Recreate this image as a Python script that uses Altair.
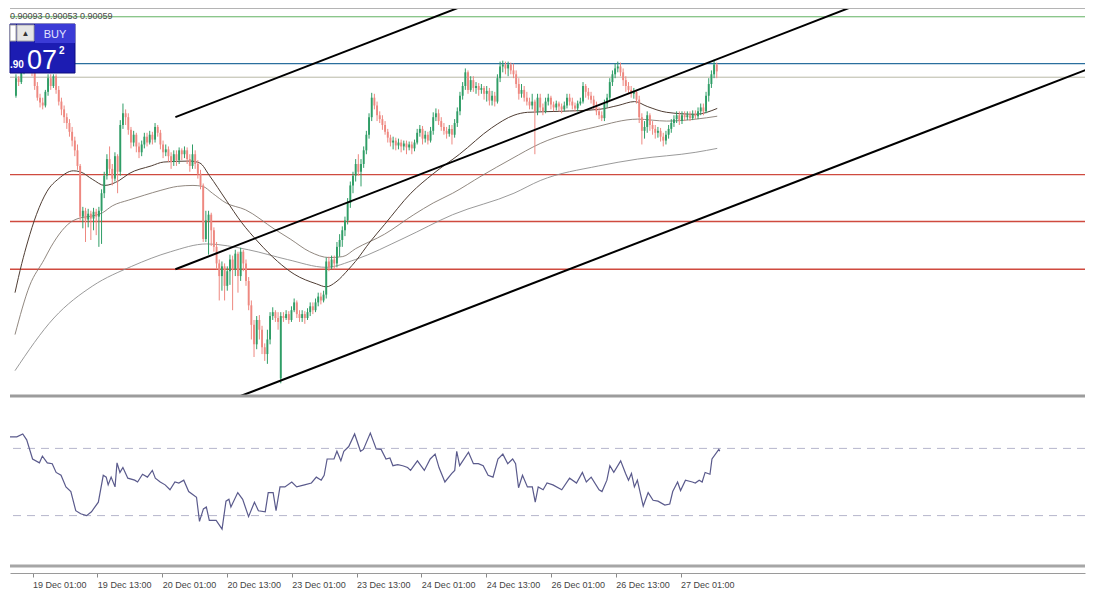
import altair as alt
import pandas as pd

W, H_PRICE, H_OSC = 1075, 388, 168
BAR_DOMAIN = [-8.36, 389.8]          # half-hour bars counted from 19 Dec 01:00
PRICE_DOMAIN = [0.89802, 0.90200]
FONT = "Liberation Sans"

# ---------------- candles (prices in points, 1e-5) ----------------
first_bar = -8
open_pts = [
    90110, 90128, 90124, 90134, 90140, 90142, 90138, 90134, 90120, 90108, 90103, 90100, 90114, 90128, 90120, 90130,
    90116, 90104, 90096, 90088, 90082, 90073, 90064, 90054, 90038, 89986, 89992, 89983, 89989, 89984, 89991, 89986,
    89992, 90010, 90028, 90045, 90035, 90025, 90048, 90032, 90080, 90092, 90088, 90075, 90062, 90070, 90058, 90052,
    90060, 90068, 90062, 90070, 90065, 90078, 90072, 90060, 90052, 90055, 90048, 90042, 90050, 90044, 90054, 90050,
    90054, 90045, 90038, 90050, 90040, 90030, 90018, 89963, 89982, 89988, 89972, 89955, 89938, 89925, 89935, 89915,
    89930, 89942, 89932, 89948, 89925, 89950, 89938, 89920, 89895, 89875, 89855, 89880, 89870, 89852, 89845, 89860,
    89884, 89888, 89882, 89820, 89884, 89882, 89886, 89880, 89890, 89898, 89886, 89882, 89886, 89882, 89888, 89894,
    89890, 89898, 89904, 89900, 89906, 89940, 89934, 89942, 89938, 89955, 89962, 89972, 89982, 90000, 90018, 90028,
    90040, 90032, 90040, 90054, 90070, 90088, 90108, 90100, 90090, 90086, 90080, 90073, 90067, 90062, 90064, 90059,
    90062, 90058, 90061, 90057, 90060, 90056, 90062, 90072, 90076, 90066, 90070, 90064, 90074, 90088, 90092, 90084,
    90078, 90074, 90071, 90076, 90070, 90082, 90094, 90110, 90120, 90134, 90116, 90126, 90118, 90120, 90116, 90118,
    90112, 90115, 90105, 90110, 90104, 90128, 90140, 90142, 90138, 90142, 90136, 90132, 90122, 90112, 90116, 90108,
    90104, 90100, 90104, 90094, 90108, 90098, 90094, 90104, 90108, 90101, 90098, 90102, 90099, 90096, 90100, 90108,
    90104, 90100, 90097, 90102, 90104, 90120, 90114, 90110, 90106, 90100, 90094, 90090, 90087, 90102, 90108, 90124,
    90132, 90138, 90140, 90134, 90126, 90120, 90116, 90112, 90114, 90106, 90088, 90074, 90078, 90090, 90080, 90076,
    90072, 90074, 90068, 90064, 90070, 90076, 90082, 90086, 90090, 90084, 90090, 90088, 90090, 90087, 90091, 90089,
    90094, 90098, 90094, 90110, 90122, 90132, 90142,
]
close_pts = [
    90128, 90124, 90134, 90140, 90142, 90138, 90134, 90120, 90108, 90103, 90100, 90114, 90128, 90120, 90130, 90116,
    90104, 90096, 90088, 90082, 90073, 90064, 90054, 90038, 89986, 89992, 89983, 89989, 89984, 89991, 89986, 89992,
    90010, 90028, 90045, 90035, 90025, 90048, 90032, 90080, 90092, 90088, 90075, 90062, 90070, 90058, 90052, 90060,
    90068, 90062, 90070, 90065, 90078, 90072, 90060, 90052, 90055, 90048, 90042, 90050, 90044, 90054, 90050, 90054,
    90045, 90038, 90050, 90040, 90030, 90018, 89963, 89982, 89988, 89972, 89955, 89938, 89925, 89935, 89915, 89930,
    89942, 89932, 89948, 89925, 89950, 89938, 89920, 89895, 89875, 89855, 89880, 89870, 89852, 89845, 89860, 89884,
    89888, 89882, 89878, 89884, 89882, 89886, 89880, 89890, 89898, 89886, 89882, 89886, 89882, 89888, 89894, 89890,
    89898, 89904, 89900, 89906, 89940, 89934, 89942, 89938, 89955, 89962, 89972, 89982, 90000, 90018, 90028, 90040,
    90032, 90040, 90054, 90070, 90088, 90108, 90100, 90090, 90086, 90080, 90073, 90067, 90062, 90064, 90059, 90062,
    90058, 90061, 90057, 90060, 90056, 90062, 90072, 90076, 90066, 90070, 90064, 90074, 90088, 90092, 90084, 90078,
    90074, 90071, 90076, 90070, 90082, 90094, 90110, 90120, 90134, 90116, 90126, 90118, 90120, 90116, 90118, 90112,
    90115, 90105, 90110, 90104, 90128, 90140, 90142, 90138, 90142, 90136, 90132, 90122, 90112, 90116, 90108, 90104,
    90100, 90104, 90094, 90108, 90098, 90094, 90104, 90108, 90101, 90098, 90102, 90099, 90096, 90100, 90108, 90104,
    90100, 90097, 90102, 90104, 90120, 90114, 90110, 90106, 90100, 90094, 90090, 90087, 90102, 90108, 90124, 90132,
    90138, 90140, 90134, 90126, 90120, 90116, 90112, 90114, 90106, 90088, 90074, 90078, 90090, 90080, 90076, 90072,
    90074, 90068, 90064, 90070, 90076, 90082, 90086, 90090, 90084, 90090, 90088, 90090, 90087, 90091, 90089, 90094,
    90098, 90094, 90110, 90122, 90132, 90142, 90135,
]
high_pts = [
    90132, 90130, 90140, 90145, 90148, 90145, 90142, 90136, 90124, 90112, 90108, 90116, 90132, 90132, 90132, 90132,
    90120, 90108, 90100, 90092, 90086, 90078, 90068, 90060, 90040, 89996, 89995, 89994, 89992, 89995, 89994, 89996,
    90014, 90032, 90050, 90058, 90040, 90052, 90050, 90085, 90102, 90096, 90092, 90078, 90074, 90072, 90062, 90064,
    90072, 90072, 90074, 90073, 90082, 90080, 90075, 90064, 90060, 90058, 90052, 90054, 90054, 90057, 90056, 90058,
    90057, 90050, 90060, 90054, 90044, 90034, 90020, 89992, 89992, 89990, 89975, 89960, 89942, 89940, 89938, 89935,
    89947, 89946, 89952, 89950, 89954, 89952, 89942, 89924, 89900, 89880, 89884, 89885, 89874, 89856, 89870, 89888,
    89893, 89890, 89888, 89888, 89888, 89890, 89889, 89894, 89902, 89900, 89890, 89890, 89889, 89892, 89898, 89898,
    89902, 89908, 89908, 89910, 89944, 89945, 89946, 89946, 89960, 89968, 89976, 89986, 90005, 90022, 90032, 90045,
    90050, 90045, 90058, 90074, 90092, 90113, 90112, 90104, 90094, 90090, 90084, 90076, 90070, 90068, 90067, 90066,
    90065, 90064, 90064, 90063, 90063, 90065, 90076, 90080, 90079, 90074, 90073, 90078, 90093, 90097, 90096, 90088,
    90082, 90078, 90080, 90080, 90086, 90098, 90114, 90124, 90138, 90136, 90130, 90130, 90124, 90123, 90122, 90120,
    90120, 90118, 90115, 90114, 90132, 90145, 90146, 90145, 90145, 90144, 90143, 90136, 90128, 90122, 90120, 90114,
    90108, 90112, 90106, 90112, 90112, 90102, 90108, 90112, 90110, 90104, 90105, 90104, 90102, 90104, 90112, 90112,
    90108, 90103, 90105, 90108, 90124, 90122, 90118, 90114, 90110, 90104, 90098, 90094, 90106, 90112, 90128, 90136,
    90143, 90145, 90144, 90138, 90130, 90124, 90120, 90118, 90116, 90110, 90092, 90084, 90094, 90092, 90084, 90080,
    90078, 90077, 90072, 90074, 90080, 90086, 90090, 90094, 90094, 90094, 90094, 90094, 90094, 90095, 90095, 90098,
    90102, 90102, 90114, 90128, 90136, 90147, 90144,
]
low_pts = [
    90108, 90120, 90122, 90132, 90136, 90134, 90130, 90116, 90105, 90098, 90096, 90098, 90110, 90116, 90118, 90112,
    90100, 90090, 90082, 90076, 90068, 90058, 90048, 90034, 89982, 89974, 89960, 89975, 89962, 89972, 89967, 89955,
    89958, 90005, 90024, 90030, 90018, 90022, 90010, 90028, 90076, 90080, 90070, 90056, 90058, 90052, 90046, 90048,
    90056, 90058, 90060, 90060, 90062, 90068, 90055, 90046, 90048, 90042, 90035, 90038, 90038, 90040, 90044, 90046,
    90040, 90032, 90035, 90035, 90025, 90014, 89960, 89960, 89947, 89956, 89950, 89932, 89900, 89910, 89900, 89910,
    89916, 89890, 89925, 89908, 89920, 89930, 89915, 89890, 89860, 89842, 89850, 89860, 89845, 89838, 89835, 89855,
    89880, 89878, 89870, 89815, 89878, 89880, 89876, 89878, 89888, 89882, 89878, 89878, 89876, 89880, 89884, 89886,
    89888, 89894, 89896, 89898, 89902, 89930, 89932, 89932, 89934, 89945, 89955, 89966, 89978, 89995, 90010, 90022,
    90028, 90017, 90036, 90050, 90066, 90084, 90096, 90084, 90082, 90075, 90070, 90062, 90058, 90055, 90054, 90055,
    90052, 90054, 90050, 90054, 90050, 90053, 90060, 90068, 90060, 90062, 90060, 90062, 90070, 90084, 90080, 90074,
    90070, 90066, 90068, 90060, 90067, 90078, 90090, 90106, 90116, 90112, 90114, 90114, 90112, 90110, 90112, 90106,
    90104, 90100, 90100, 90099, 90102, 90124, 90134, 90132, 90130, 90132, 90128, 90118, 90106, 90108, 90104, 90100,
    90096, 90096, 90050, 90090, 90094, 90090, 90092, 90100, 90096, 90094, 90095, 90094, 90092, 90094, 90097, 90100,
    90096, 90094, 90094, 90100, 90102, 90108, 90106, 90102, 90096, 90090, 90086, 90084, 90084, 90098, 90105, 90120,
    90128, 90134, 90130, 90120, 90114, 90112, 90108, 90107, 90102, 90082, 90060, 90066, 90072, 90074, 90070, 90066,
    90067, 90063, 90058, 90060, 90066, 90072, 90078, 90082, 90080, 90081, 90084, 90085, 90084, 90085, 90086, 90086,
    90090, 90090, 90092, 90104, 90118, 90128, 90128,
]

# ---------------- moving averages (bar, price in points) ----------------
ma_fast_bar = [-8.36, -5.82, -3.64, -0.36, 3.64, 8.0, 13.45, 16.0, 20.73, 25.09, 30.55, 34.18, 42.55, 47.27, 57.09,
               60.73, 64.36, 70.55, 76.36, 82.55, 89.82, 96.0, 104.36, 108.0, 111.64, 116.36, 118.91, 124.36, 129.82,
               139.64, 148.0, 157.82, 169.82, 178.18, 183.27, 195.27, 209.82, 217.09, 223.27, 228.0, 235.27, 246.18,
               254.18]
ma_fast_pts = [89908, 89938, 89960, 89988, 90012, 90025, 90033, 90032, 90024, 90018, 90023, 90030, 90038, 90042, 90043,
               90041, 90028, 90003, 89980, 89960, 89940, 89927, 89917, 89914, 89919, 89932, 89940, 89960, 89978,
               90010, 90030, 90050, 90077, 90090, 90093, 90094, 90096, 90100, 90104, 90099, 90093, 90091,
               90097]
ma_mid_bar = [-8.36, -2.91, 2.55, 5.09, 13.45, 24.36, 28.0, 34.18, 40.0, 46.18, 52.36, 58.18, 61.82, 65.45, 70.55,
              77.82, 88.73, 94.55, 101.82, 109.09, 114.18, 118.91, 129.82, 140.73, 148.0, 155.27, 166.18, 177.09,
              188.0, 208.73, 224.36, 235.27, 246.18, 254.18]
ma_mid_pts = [89865, 89915, 89942, 89955, 89982, 89990, 89997, 90003, 90008, 90013, 90017, 90018, 90017, 90010, 90000,
              89993, 89973, 89963, 89950, 89944, 89945, 89953, 89968, 89988, 90000, 90010, 90028, 90045,
              90061, 90078, 90086, 90084, 90086, 90089]
ma_slow_bar = [-8.36, 6.18, 20.73, 35.27, 49.82, 63.27, 78.91, 93.45, 108.0, 118.91, 137.09, 155.27, 178.18, 188.0,
               209.82, 224.36, 246.18, 254.18]
ma_slow_pts = [89828, 89882, 89915, 89935, 89950, 89958, 89952, 89942, 89934, 89942, 89964, 89988, 90010, 90023,
               90038, 90045, 90052, 90056]

# ---------------- horizontal levels ----------------
level_prices = [0.90191, 0.90143, 0.90129, 0.90029, 0.89981, 0.89932]
level_colors = ["#62b262", "#2b6f9e", "#b9b9a6", "#cf4a3f", "#cf4a3f", "#cf4a3f"]
level_widths = [1.0, 1.3, 1.0, 1.3, 1.3, 1.3]

# ---------------- channel trend lines ----------------
channel_ids = ["upper", "upper", "middle", "middle", "lower", "lower"]
channel_bar = [51.6, 160.0, 51.6, 310.0, 76.0, 400.0]
channel_price = [0.90088, 0.90203, 0.89932, 0.90207, 0.89802, 0.90145]

# ---------------- oscillator ----------------
rsi_bar = [-8.36, -5.82, -3.64, -2.18, 0.0, 2.54, 3.64, 5.46, 7.28, 8.72, 10.54, 12.36, 14.18, 16.0, 17.82, 20.0,
           21.82, 24.36, 26.18, 27.28, 28.0, 29.1, 30.54, 31.28, 32.36, 33.46, 35.28, 37.82, 38.9, 40.72, 42.54,
           44.36, 45.46, 47.28, 49.1, 50.9, 52.72, 54.18, 56.0, 57.82, 60.72, 61.82, 63.28, 64.36, 65.46, 68.0,
           70.18, 71.64, 72.72, 73.46, 76.0, 77.82, 80.0, 82.18, 83.64, 86.18, 87.28, 89.1, 90.18, 91.64, 93.46,
           96.0, 97.82, 100.72, 103.28, 105.1, 106.9, 108.0, 109.1, 111.64, 112.72, 114.18, 115.28, 117.1, 119.28,
           121.46, 122.54, 125.1, 127.28, 129.1, 130.9, 132.36, 133.46, 135.28, 137.1, 138.9, 140.0, 142.54, 145.1,
           147.28, 149.1, 150.54, 152.72, 155.28, 156.36, 157.1, 158.18, 161.46, 163.28, 165.1, 166.9, 168.72,
           170.54, 172.36, 174.18, 176.0, 177.82, 178.9, 180.0, 181.46, 183.28, 185.1, 186.18, 187.28, 189.1,
           190.54, 192.72, 196.0, 198.9, 201.46, 203.64, 205.1, 206.9, 209.82, 210.9, 212.72, 213.82, 215.28,
           217.82, 219.64, 220.72, 221.82, 222.9, 224.0, 226.18, 228.0, 229.82, 231.64, 234.18, 236.0, 237.1,
           238.9, 240.0, 241.82, 244.36, 245.46, 246.9, 248.0, 249.1, 250.9, 251.64, 254.18, 254.54]
rsi_val = [76.9, 76.9, 78.6, 75.1, 63.7, 61.4, 65.4, 61.4, 60.9, 55.7, 54.0, 47.1, 44.3, 32.9, 31.1, 30.0,
           32.3, 38.0, 54.0, 52.9, 48.3, 52.9, 47.1, 61.4, 55.7, 58.6, 52.3, 51.1, 50.0, 54.6, 52.9,
           56.9, 52.3, 50.0, 48.3, 45.4, 50.0, 49.4, 51.1, 44.3, 40.9, 26.6, 34.0, 35.1, 27.1, 27.1,
           22.0, 38.6, 39.7, 35.1, 43.7, 39.7, 29.4, 38.0, 32.9, 32.3, 43.7, 43.7, 32.9, 47.1, 47.1,
           50.0, 47.1, 48.3, 49.4, 52.9, 51.1, 54.0, 63.7, 63.7, 68.3, 62.6, 68.3, 71.1, 78.6,
           68.3, 69.4, 79.1, 69.7, 69.4, 63.7, 64.3, 59.7, 60.3, 59.7, 58.6, 56.9, 62.6, 56.9,
           63.7, 66.6, 58.6, 50.0, 55.1, 56.9, 68.3, 59.7, 67.7, 60.9, 60.9, 59.7, 54.0,
           52.9, 63.7, 66.6, 60.9, 63.7, 60.9, 46.6, 54.0, 47.1, 47.1, 38.0, 47.1, 45.4,
           49.4, 48.3, 45.4, 52.3, 49.4, 55.7, 50.0, 52.9, 45.4, 44.3, 51.1, 59.7, 55.7,
           62.6, 55.1, 51.1, 55.1, 47.1, 51.1, 35.7, 43.7, 39.1, 38.6, 36.3, 36.9, 44.3,
           50.0, 44.9, 51.1, 50.0, 49.4, 51.1, 50.0, 55.7, 54.6, 63.7, 69.4, 68.3]
rsi_levels = [70, 30]

tick_bars = [0, 24, 48, 72, 96, 120, 144, 168, 192, 216, 240]
tick_labels = ["19 Dec 01:00", "19 Dec 13:00", "20 Dec 01:00", "20 Dec 13:00", "23 Dec 01:00", "23 Dec 13:00",
               "24 Dec 01:00", "24 Dec 13:00", "26 Dec 01:00", "26 Dec 13:00", "27 Dec 01:00"]
header_text = "0.90093 0.90053 0.90059"

# ---------------- build tables ----------------
n = len(open_pts)
candles = pd.DataFrame({
    "bar": list(range(first_bar, first_bar + n)),
    "open": [v / 1e5 for v in open_pts],
    "close": [v / 1e5 for v in close_pts],
    "high": [v / 1e5 for v in high_pts],
    "low": [v / 1e5 for v in low_pts],
    "dir": ["up" if c >= o else "down" for o, c in zip(open_pts, close_pts)],
})

xs = alt.Scale(domain=BAR_DOMAIN, nice=False, zero=False)
ys = alt.Scale(domain=PRICE_DOMAIN, nice=False, zero=False)
cscale = alt.Scale(domain=["up", "down"], range=["#2f9d66", "#ee8880"])
X = alt.X("bar:Q", scale=xs, axis=None)

base = alt.Chart(candles)
wicks = base.mark_rule(strokeWidth=1, clip=True).encode(
    x=X, y=alt.Y("low:Q", scale=ys, axis=None), y2="high:Q",
    color=alt.Color("dir:N", scale=cscale, legend=None))
bodies = base.mark_bar(width=1.9, clip=True).encode(
    x=X, y=alt.Y("open:Q", scale=ys, axis=None), y2="close:Q",
    color=alt.Color("dir:N", scale=cscale, legend=None))


def ma_layer(bars, pts, color, w):
    df = pd.DataFrame({"bar": bars, "price": [v / 1e5 for v in pts]})
    return alt.Chart(df).mark_line(color=color, strokeWidth=w, interpolate="monotone", clip=True).encode(
        x=X, y=alt.Y("price:Q", scale=ys, axis=None))


ma_fast = ma_layer(ma_fast_bar, ma_fast_pts, "#4f3d33", 1.0)
ma_mid = ma_layer(ma_mid_bar, ma_mid_pts, "#857a72", 0.9)
ma_slow = ma_layer(ma_slow_bar, ma_slow_pts, "#8e8e8e", 0.9)

levels = pd.DataFrame({"price": level_prices, "col": level_colors, "w": level_widths})
level_rules = alt.Chart(levels).mark_rule().encode(
    y=alt.Y("price:Q", scale=ys, axis=None),
    color=alt.Color("col:N", scale=None),
    strokeWidth=alt.StrokeWidth("w:Q", scale=None))

chan = pd.DataFrame({"line": channel_ids, "bar": channel_bar, "price": channel_price})
chan_lines = alt.Chart(chan).mark_line(color="#000000", strokeWidth=2, clip=True).encode(
    x=X, y=alt.Y("price:Q", scale=ys, axis=None), detail="line:N")

one = pd.DataFrame({"k": [0]})


def rect(x1, x2, y1, y2, fill, stroke=None):
    kw = {"fill": fill}
    if stroke:
        kw["stroke"] = stroke
        kw["strokeWidth"] = 1
    return alt.Chart(one).mark_rect(**kw).encode(
        x=alt.value(x1), x2=alt.value(x2), y=alt.value(y1), y2=alt.value(y2))


def label(txt, x, y, size, color, weight="normal", align="left", font=FONT):
    return alt.Chart(one).mark_text(text=txt, align=align, baseline="alphabetic", fontSize=size,
                                    color=color, font=font, fontWeight=weight).encode(
        x=alt.value(x), y=alt.value(y))


def hline(y, color, w, x1=0, x2=W):
    return alt.Chart(one).mark_rule(color=color, strokeWidth=w).encode(
        x=alt.value(x1), x2=alt.value(x2), y=alt.value(y))


header = label(header_text, 0, 11, 9, "#4a4a4a")
buy_box = [
    rect(0, 65, 16, 65, "#1c1cb2", "#0d0d80"),
    rect(25, 65, 16, 35, "#3b3bd6"),
    rect(0, 6, 17, 33, "#ffffff", "#9a9a9a"),
    rect(7, 24, 17, 33, "#e6e6e6", "#a8a8a8"),
    label("\u25b2", 15.5, 28, 8, "#333333", align="center"),
    label("BUY", 45, 30, 11, "#e4e4ff", align="center"),
    label(".90", 0, 60, 10, "#ffffff", weight="bold"),
    label("07", 17, 61, 27, "#ffffff"),
    label("2", 49, 46, 10, "#ffffff", weight="bold"),
]

price_panel = alt.layer(
    level_rules, ma_slow, ma_mid, ma_fast, wicks, bodies, chan_lines,
    hline(0.5, "#b4b4b4", 1), hline(H_PRICE, "#9c9c9c", 3),
    header, *buy_box,
).properties(width=W, height=H_PRICE)

# ---------------- oscillator panel ----------------
label_expr = "[" + ",".join("'%s'" % t for t in tick_labels) + "][round(datum.value / 24)]"
osc_x = alt.X("bar:Q", scale=xs, axis=alt.Axis(
    values=tick_bars, labelExpr=label_expr, title=None, grid=False, offset=7,
    domainColor="#9a9a9a", domainWidth=1, tickColor="#8a8a8a", tickSize=4,
    labelAlign="left", labelFontSize=9, labelFont=FONT, labelColor="#444444",
    labelPadding=3, labelOverlap=False, labelFlush=False, labelBound=False))
osc_y = alt.Scale(domain=[0, 100], nice=False, zero=False)

rsi_df = pd.DataFrame({"bar": rsi_bar, "rsi": rsi_val})
rsi_line = alt.Chart(rsi_df).mark_line(color="#5a5a8c", strokeWidth=1.2, clip=True).encode(
    x=osc_x, y=alt.Y("rsi:Q", scale=osc_y, axis=None))
rsi_lv = alt.Chart(pd.DataFrame({"lv": rsi_levels})).mark_rule(
    color="#b6b6cc", strokeWidth=1, strokeDash=[8, 6]).encode(y=alt.Y("lv:Q", scale=osc_y, axis=None))

osc_panel = alt.layer(rsi_lv, rsi_line, hline(H_OSC, "#a6a6a6", 3)).properties(width=W, height=H_OSC)

chart = alt.vconcat(price_panel, osc_panel, spacing=0).properties(
    padding=0, background="white").configure_view(stroke=None)

chart.save("out.html", embed_options={"renderer": "svg", "actions": False})
